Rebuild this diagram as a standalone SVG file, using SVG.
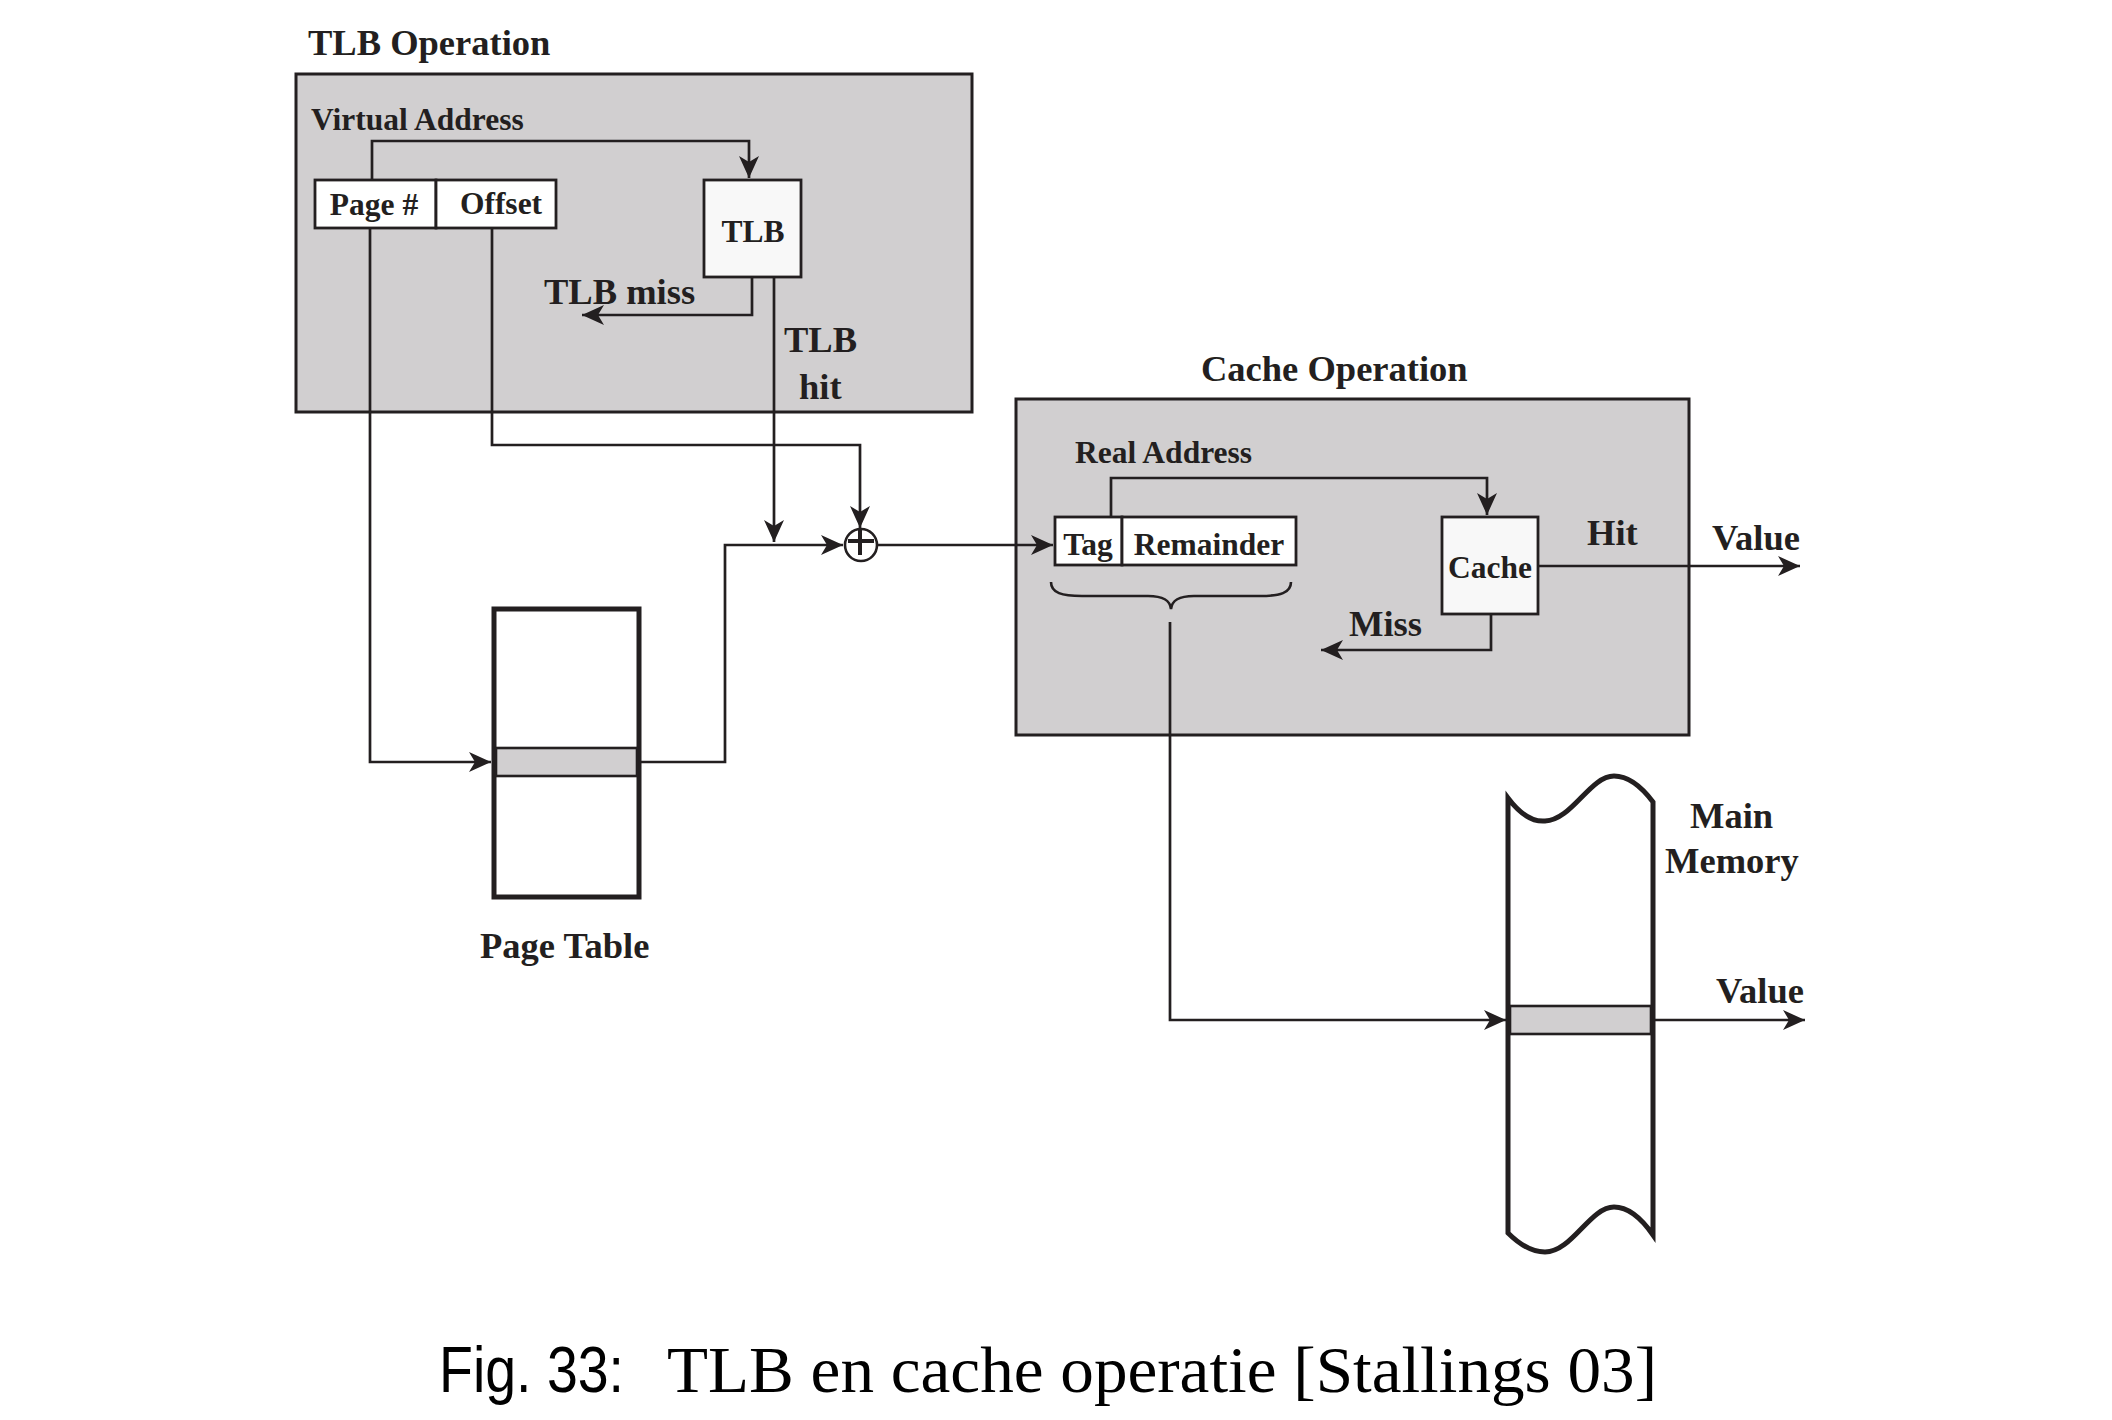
<svg xmlns="http://www.w3.org/2000/svg" width="2112" height="1420" viewBox="0 0 2112 1420">
<defs>
<marker id="arr" markerUnits="userSpaceOnUse" markerWidth="24" markerHeight="22" refX="22" refY="10" orient="auto">
<path d="M0,0 L22,10 L0,20 L6,10 Z" fill="#231f20"/>
</marker>
<style>
.t{font-family:"Liberation Serif","Times New Roman",serif;font-weight:bold;fill:#231f20}
.s{font-size:31.5px}
.l{font-size:36.5px}
.c{fill:none;stroke:#231f20;stroke-width:2.7}
.ca{fill:none;stroke:#231f20;stroke-width:2.7;marker-end:url(#arr)}
.grp{fill:#d1cfd0;stroke:#231f20;stroke-width:3}
.box{fill:#ffffff;stroke:#231f20;stroke-width:2.8}
.box2{fill:#f8f8f8;stroke:#231f20;stroke-width:2.8}
</style>
</defs>
<rect width="2112" height="1420" fill="#ffffff"/>

<g id="tlb-operation">
<rect class="grp" x="296" y="74" width="676" height="338"/>
<text class="t l" x="308" y="55">TLB Operation</text>
<text class="t s" x="311" y="130">Virtual Address</text>
</g>

<g id="cache-operation">
<rect class="grp" x="1016" y="399" width="673" height="336"/>
<text class="t l" x="1201" y="381">Cache Operation</text>
<text class="t s" x="1075" y="463">Real Address</text>
</g>

<g id="virtual-address">
<rect class="box" x="315" y="180" width="121" height="48"/>
<rect class="box" x="436" y="180" width="120" height="48"/>
<text class="t s" x="374" y="215" text-anchor="middle">Page #</text>
<text class="t s" x="501" y="214" text-anchor="middle">Offset</text>
</g>

<g id="tlb">
<rect class="box2" x="704" y="180" width="97" height="97"/>
<text class="t s" x="753" y="242" text-anchor="middle">TLB</text>
</g>

<g id="page-table">
<rect x="494" y="609" width="145" height="288" fill="#ffffff" stroke="#231f20" stroke-width="5"/>
<rect x="496" y="748" width="141" height="28" fill="#d1cfd0" stroke="#231f20" stroke-width="2.6"/>
<text class="t l" x="480" y="958">Page Table</text>
</g>

<g id="adder">
<circle cx="861" cy="545" r="16" fill="#ffffff" stroke="#231f20" stroke-width="2.6"/>
<path d="M848,541 H874 M860,530 V555" stroke="#231f20" stroke-width="4" fill="none"/>
</g>

<g id="real-address">
<rect class="box" x="1055" y="517" width="67" height="48"/>
<rect class="box" x="1122" y="517" width="174" height="48"/>
<text class="t s" x="1088" y="555" text-anchor="middle">Tag</text>
<text class="t s" x="1209" y="555" text-anchor="middle">Remainder</text>
<path d="M1051,582 C1051,593 1062,596 1082,596 L1148,596 C1163,596 1170,600 1171,609 C1172,600 1179,596 1194,596 L1260,596 C1280,596 1291,593 1291,582" fill="none" stroke="#231f20" stroke-width="2.6"/>
</g>

<g id="cache">
<rect class="box2" x="1442" y="517" width="96" height="97"/>
<text class="t s" x="1490" y="578" text-anchor="middle">Cache</text>
</g>

<g id="main-memory">
<path d="M1508,798 C1520,814 1532,822 1545,821 C1572,820 1590,776 1614,776 C1630,776 1644,790 1653,802 L1653,1235 C1644,1222 1630,1207 1614,1207 C1590,1207 1572,1252 1545,1252 C1532,1252 1520,1245 1508,1233 Z" fill="#ffffff" stroke="#231f20" stroke-width="5"/>
<rect x="1510" y="1006" width="141" height="28" fill="#d1cfd0" stroke="#231f20" stroke-width="2.6"/>
<text class="t l" x="1690" y="828">Main</text>
<text class="t l" x="1665" y="873">Memory</text>
</g>

<g id="connectors">
<path class="ca" d="M372,180 V141 H749 V178"/>
<path class="ca" d="M752,277 V315 H582"/>
<path class="ca" d="M774,277 V542"/>
<path class="ca" d="M370,228 V762 H491"/>
<path class="ca" d="M492,228 V445 H860 V528"/>
<path class="ca" d="M639,762 H725 V545 H843"/>
<path class="ca" d="M877,545 H1053"/>
<path class="ca" d="M1111,517 V478 H1487 V515"/>
<path class="ca" d="M1538,566 H1800"/>
<path class="ca" d="M1491,614 V650 H1321"/>
<path class="ca" d="M1170,622 V1020 H1506"/>
<path class="ca" d="M1653,1020 H1805"/>
</g>

<g id="labels">
<text class="t l" x="544" y="304">TLB miss</text>
<text class="t l" x="784" y="352">TLB</text>
<text class="t l" x="799" y="399">hit</text>
<text class="t l" x="1587" y="545">Hit</text>
<text class="t l" x="1712" y="550">Value</text>
<text class="t l" x="1349" y="636">Miss</text>
<text class="t l" x="1716" y="1003">Value</text>
</g>

<g id="caption">
<text x="439" y="1392" font-family="Liberation Sans, Arial, sans-serif" font-size="64" fill="#000000" textLength="185" lengthAdjust="spacingAndGlyphs">Fig. 33:</text>
<text x="667" y="1392" font-family="Liberation Serif, Times New Roman, serif" font-size="66" fill="#000000" textLength="990" lengthAdjust="spacingAndGlyphs">TLB en cache operatie [Stallings 03]</text>
</g>
</svg>
